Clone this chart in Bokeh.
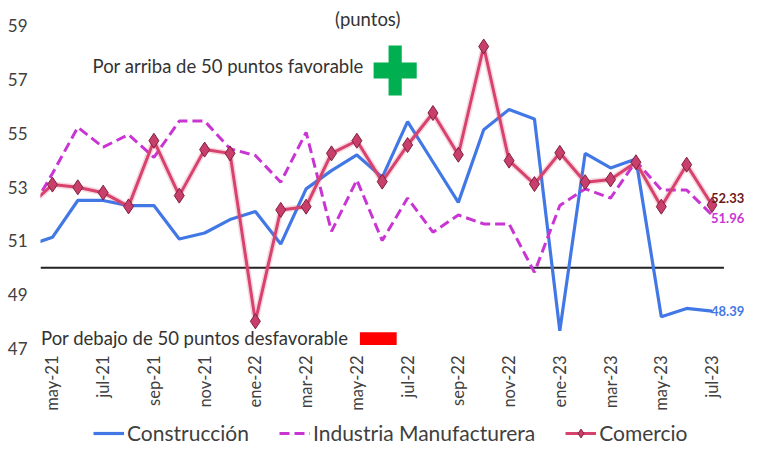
from math import pi
from bokeh.plotting import figure
from bokeh.layouts import column
from bokeh.models import (Range1d, FixedTicker, Label, Legend, LegendItem,
                          BoxAnnotation, ColumnDataSource)
from bokeh.embed import file_html
from bokeh.resources import INLINE

# ---- data -------------------------------------------------------------
month_index = list(range(-1, 27))  # -1 = abr-21 (clipped at left edge), 0 = may-21 ... 26 = jul-23
tick_positions = list(range(0, 27, 2))
tick_labels = ["may-21", "jul-21", "sep-21", "nov-21", "ene-22", "mar-22", "may-22",
               "jul-22", "sep-22", "nov-22", "ene-23", "mar-23", "may-23", "jul-23"]

construccion = [50.81, 51.13, 52.50, 52.50, 52.31, 52.31, 51.07, 51.29, 51.79, 52.09,
                50.88, 52.93, 53.61, 54.19, 53.36, 55.43, 53.93, 52.43, 55.13, 55.88,
                55.53, 47.66, 54.25, 53.71, 54.04, 48.18, 48.49, 48.39]
industria = [51.90, 53.50, 55.22, 54.48, 54.95, 54.10, 55.45, 55.45, 54.42, 54.17,
             53.18, 55.03, 51.35, 53.26, 51.01, 52.59, 51.32, 51.96, 51.63, 51.63,
             49.83, 52.31, 52.93, 52.59, 53.96, 52.89, 52.89, 51.96]
comercio = [52.23, 53.09, 52.99, 52.79, 52.28, 54.72, 52.68, 54.39, 54.25, 48.01,
            52.15, 52.27, 54.25, 54.72, 53.20, 54.56, 55.75, 54.20, 58.22, 53.98,
            53.11, 54.27, 53.18, 53.28, 53.92, 52.27, 53.83, 52.33]
series_names = ["Construcción", "Industria Manufacturera", "Comercio"]
y_ticks = [47, 49, 51, 53, 55, 57, 59]
threshold = 50

FONT = "Lato"
C_BLUE = "#4278e6"
C_MAG = "#c935d3"
C_COM = "#d8436e"
C_COM_FILL = "#c83f6b"
C_COM_EDGE = "#7e2140"

X_LO, X_HI = -0.47, 26.47

src = ColumnDataSource(dict(x=month_index, con=construccion, ind=industria, com=comercio))


def draw_series(fig):
    r1 = fig.line("x", "con", source=src, line_color=C_BLUE, line_width=3.2)
    r2 = fig.line("x", "ind", source=src, line_color=C_MAG, line_width=3, line_dash="10 5")
    fig.line("x", "com", source=src, line_color=C_COM, line_width=6, line_alpha=0.22)
    r3 = fig.line("x", "com", source=src, line_color=C_COM, line_width=3)
    r4 = fig.scatter("x", "com", source=src, marker="diamond", size=15,
                     fill_color=C_COM_FILL, line_color=C_COM_EDGE, line_width=1)
    return r1, r2, r3, r4


p = figure(width=744, height=416, x_range=Range1d(X_LO, 27.28), y_range=Range1d(47, 59.93),
           output_backend="svg", toolbar_location=None,
           min_border_left=40, min_border_right=0, min_border_top=0, min_border_bottom=68)
p.outline_line_color = None
p.xgrid.visible = False
p.ygrid.visible = False
p.background_fill_color = "white"
p.border_fill_color = "white"

# axes
p.yaxis.ticker = FixedTicker(ticks=y_ticks)
p.yaxis.axis_line_color = None
p.yaxis.major_tick_line_color = None
p.yaxis.minor_tick_line_color = None
p.yaxis.major_tick_out = 0
p.yaxis.major_tick_in = 0
p.yaxis.minor_tick_out = 0
p.yaxis.major_label_standoff = 13
p.yaxis.major_label_text_font = FONT
p.yaxis.major_label_text_font_size = "17px"
p.yaxis.major_label_text_color = "#404040"

p.xaxis.ticker = FixedTicker(ticks=tick_positions)
p.xaxis.major_label_overrides = {t: l for t, l in zip(tick_positions, tick_labels)}
p.xaxis.major_label_orientation = pi / 2
p.xaxis.axis_line_color = None
p.xaxis.major_tick_line_color = None
p.xaxis.minor_tick_line_color = None
p.xaxis.major_tick_out = 0
p.xaxis.major_tick_in = 0
p.xaxis.minor_tick_out = 0
p.xaxis.major_label_standoff = 7
p.xaxis.major_label_text_font = FONT
p.xaxis.major_label_text_font_size = "16.5px"
p.xaxis.major_label_text_color = "#404040"

# 50 line across the plotting area
p.segment(x0=[X_LO], x1=[X_HI], y0=[threshold], y1=[threshold], line_color="#222222", line_width=2)

draw_series(p)

# end labels
Lx = month_index[-1]
end_kw = dict(text_font=FONT, text_font_size="13px", text_font_style="bold", text_baseline="middle")
p.add_layout(Label(x=Lx, y=comercio[-1], x_offset=-1, y_offset=7, text=f"{comercio[-1]:.2f}",
                   text_color="#6e1a1a", **end_kw))
p.add_layout(Label(x=Lx, y=industria[-1], x_offset=-1, y_offset=-3, text=f"{industria[-1]:.2f}",
                   text_color=C_MAG, **end_kw))
p.add_layout(Label(x=Lx, y=construccion[-1], x_offset=-1, y_offset=0, text=f"{construccion[-1]:.2f}",
                   text_color=C_BLUE, **end_kw))

# annotations
ann_kw = dict(text_font=FONT, text_font_size="18.5px", text_color="#333333", text_baseline="middle")
p.add_layout(Label(x=12.43, y=59.26, text="(puntos)", text_align="center", **ann_kw))
p.add_layout(Label(x=1.58, y=57.51, text="Por arriba de 50 puntos favorable", **ann_kw))
p.add_layout(Label(x=-0.45, y=47.40, text="Por debajo de 50 puntos desfavorable", **ann_kw))
# green plus
p.add_layout(BoxAnnotation(left=12.66, right=14.36, bottom=57.03, top=57.63,
                           fill_color="#00b050", fill_alpha=1, line_alpha=0))
p.add_layout(BoxAnnotation(left=13.25, right=13.77, bottom=56.40, top=58.26,
                           fill_color="#00b050", fill_alpha=1, line_alpha=0))
# red bar
p.add_layout(BoxAnnotation(left=12.12, right=13.57, bottom=47.13, top=47.60,
                           fill_color="#ff0000", fill_alpha=1, line_alpha=0))

# ---- legend strip (same series, drawn outside its visible range) ---------
pl = figure(width=744, height=29, x_range=Range1d(1000, 1001), y_range=Range1d(0, 1),
            output_backend="svg", toolbar_location=None,
            x_axis_location=None, y_axis_location=None,
            min_border_left=0, min_border_right=0, min_border_top=0, min_border_bottom=0)
pl.grid.visible = False
pl.outline_line_color = None
l_con, l_ind, l_com, l_com_m = draw_series(pl)
legend = Legend(items=[LegendItem(label=series_names[0], renderers=[l_con]),
                       LegendItem(label=series_names[1], renderers=[l_ind]),
                       LegendItem(label=series_names[2], renderers=[l_com, l_com_m])],
                orientation="horizontal", location=(53, 0),
                label_text_font=FONT, label_text_font_size="21px", label_text_color="#404040",
                glyph_width=31, glyph_height=22, label_height=22, label_standoff=3, spacing=30,
                padding=1, margin=0, border_line_color=None, background_fill_alpha=0)
pl.add_layout(legend, "center")

open("out.html", "w").write(file_html(column(p, pl), INLINE))
